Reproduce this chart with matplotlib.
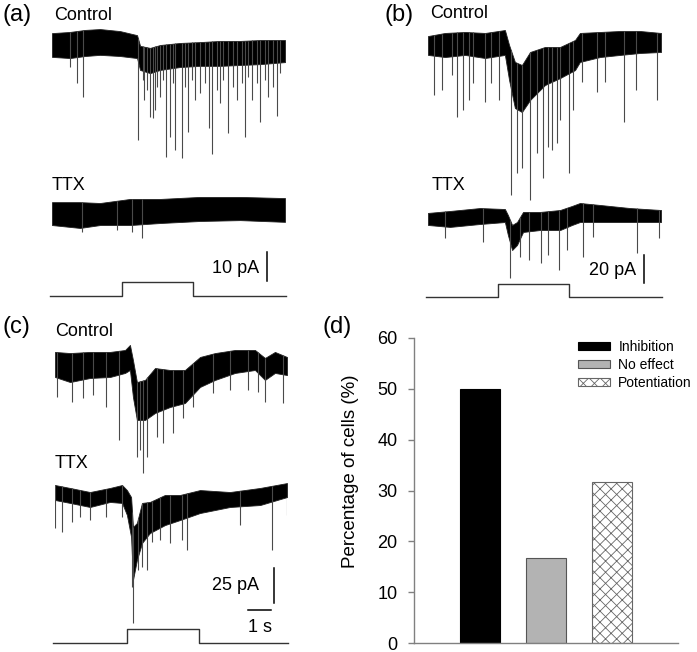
import numpy as np
import matplotlib
matplotlib.use("Agg")
import matplotlib.pyplot as plt

plt.rcParams['font.family'] = ['Liberation Sans', 'DejaVu Sans']
plt.rcParams['hatch.linewidth'] = 0.6

# ---------------- data ----------------
# traces: time (s), upper / lower edge of the noise band (pA), events (s, pA)

# (a) control
a_ctrl_t = [0, 0.77, 1.42, 2.06, 2.92, 3.65, 3.78, 4.21, 4.64, 5.49, 6.35, 7.21, 8.07, 8.93, 10.0]
a_ctrl_hi = [4.1, 4.5, 5.2, 5.5, 4.8, 3.4, -0.3, -1.0, 0.0, 0.7, 1.0, 1.4, 1.4, 1.7, 1.7]
a_ctrl_lo = [-4.1, -4.5, -3.8, -3.4, -3.8, -4.5, -8.6, -9.7, -8.6, -7.6, -7.2, -7.2, -6.9, -6.6, -5.9]
a_ctrl_ev_t = [0.77, 1.07, 1.33, 3.69, 3.91, 3.95, 4.08, 4.21, 4.33, 4.42, 4.51, 4.64, 4.76, 4.89,
               5.06, 5.19, 5.28, 5.58, 5.71, 5.84, 6.01, 6.14, 6.35, 6.57, 6.74, 6.87, 7.08, 7.21,
               7.34, 7.55, 7.77, 7.94, 8.15, 8.28, 8.41, 8.58, 8.80, 8.93, 9.14, 9.27, 9.48, 9.66, 9.79]
a_ctrl_ev_amp = [-7.6, -13.1, -17.9, -32.8, -12.1, -19.0, -15.5, -24.8, -25.2, -22.4, -14.5, -17.9, -12.1,
                 -38.6, -31.7, -13.1, -36.2, -39.0, -14.5, -30.0, -12.1, -19.0, -16.6, -13.1, -28.6,
                 -37.6, -15.5, -20.0, -12.1, -30.3, -14.5, -19.0, -13.1, -31.7, -11.0, -19.0, -13.1,
                 -26.6, -12.1, -17.9, -14.5, -24.5, -9.7]

# (a) TTX
a_ttx_t = [0, 1.20, 2.06, 3.35, 4.64, 6.35, 8.07, 10.0]
a_ttx_hi = [3.4, 3.4, 3.1, 4.5, 4.5, 5.2, 5.2, 4.8]
a_ttx_lo = [-4.5, -5.5, -4.5, -4.5, -3.8, -3.1, -2.8, -3.4]
a_ttx_ev_t = [1.29, 2.79, 3.43, 3.86]
a_ttx_ev_amp = [-6.9, -6.2, -6.9, -9.0]

# (b) control
b_ctrl_t = [0, 0.73, 1.59, 2.45, 3.30, 3.48, 3.73, 4.03, 4.38, 5.02, 5.67, 6.31, 6.52, 7.38, 8.24, 9.10, 10.0]
b_ctrl_hi = [6.4, 8.6, 9.3, 8.6, 10.7, 0, -12.1, -14.3, -5.0, -1.4, -1.4, 3.6, 8.6, 9.3, 10.0, 10.0, 8.6]
b_ctrl_lo = [-7.1, -8.6, -7.1, -9.3, -7.1, -25.0, -45.0, -47.9, -39.3, -28.6, -23.6, -17.9, -12.1,
             -8.6, -7.1, -5.7, -5.0]
b_ctrl_ev_t = [0.26, 0.60, 1.03, 1.24, 1.50, 1.76, 1.93, 2.45, 2.70, 3.05, 3.56, 3.82, 4.03, 4.38,
               4.68, 4.94, 5.15, 5.32, 5.54, 5.67, 6.05, 6.22, 6.61, 7.25, 7.60, 8.41, 8.93, 9.83]
b_ctrl_ev_amp = [-35.7, -32.1, -21.4, -51.4, -46.4, -39.3, -27.1, -40.7, -27.1, -39.3, -107.1, -91.4, -87.9,
                 -110.7, -77.1, -95.0, -72.9, -75.0, -70.0, -53.6, -91.4, -46.4, -26.4, -33.6, -26.4,
                 -55.0, -32.1, -39.3]

# (b) TTX
b_ttx_t = [0, 0.94, 2.23, 3.30, 3.43, 3.61, 3.82, 4.08, 4.81, 5.67, 6.18, 6.52, 7.38, 8.67, 10.0]
b_ttx_hi = [2.9, 4.3, 6.4, 5.7, 1.4, -5.7, -3.6, 3.6, 3.6, 5.0, 7.9, 10.0, 8.6, 6.4, 5.0]
b_ttx_lo = [-5.7, -7.1, -5.0, -3.6, -12.9, -23.6, -20.0, -10.7, -9.3, -9.3, -5.7, -3.6, -3.6, -3.6, -3.6]
b_ttx_ev_t = [0.73, 2.36, 3.52, 3.95, 4.33, 4.85, 5.15, 5.62, 5.97, 6.65, 7.08, 8.97, 9.91]
b_ttx_ev_amp = [-15.0, -17.9, -43.6, -28.6, -30.7, -32.9, -27.1, -37.9, -23.6, -28.6, -14.3, -25.7, -15.0]

# (c) control
c_ctrl_t = [0, 0.65, 1.51, 2.37, 3.02, 3.23, 3.36, 3.53, 3.88, 4.31, 4.96, 5.60, 6.25, 6.90, 7.76,
            8.62, 9.05, 9.48, 10.0]
c_ctrl_hi = [7.9, 7.1, 7.9, 7.9, 9.3, 12.9, 2.1, -13.6, -12.1, -3.6, -5.0, -5.0, 4.3, 7.1, 9.3, 9.3,
             3.6, 7.9, 4.3]
c_ctrl_lo = [-10.0, -13.6, -10.7, -10.0, -7.1, -5.0, -24.3, -40.7, -40.7, -35.7, -31.4, -28.6, -17.1,
             -12.1, -7.1, -5.0, -12.1, -7.1, -8.6]
c_ctrl_ev_t = [0.09, 0.73, 1.21, 1.64, 2.20, 2.76, 3.53, 3.66, 3.79, 3.97, 4.40, 4.66, 5.09, 5.52,
               5.95, 6.81, 7.54, 8.32, 8.75, 9.05, 9.83]
c_ctrl_ev_amp = [-24.3, -27.9, -25.0, -22.9, -31.4, -55.0, -67.1, -62.1, -78.6, -67.1, -52.9, -57.1,
                 -50.0, -39.3, -31.4, -21.4, -19.3, -19.3, -20.7, -27.9, -28.6]

# (c) TTX
c_ttx_t = [0, 0.65, 1.51, 2.37, 2.89, 3.10, 3.28, 3.36, 3.53, 3.75, 4.09, 4.74, 5.39, 6.25, 7.54, 8.84, 10.0]
c_ttx_hi = [5.7, 3.6, 0.7, 3.6, 5.7, 2.1, -2.9, -24.3, -21.4, -7.1, -6.4, -1.4, -1.4, 2.1, 0.7, 3.6, 7.1]
c_ttx_lo = [-5.0, -7.1, -10.0, -6.4, -7.1, -15.7, -31.4, -62.1, -47.9, -35.7, -28.6, -22.9, -19.3,
            -14.3, -10.0, -8.6, -2.9]
c_ttx_ev_t = [0.02, 0.30, 0.73, 1.08, 1.51, 2.20, 2.89, 3.32, 3.36, 3.58, 3.75, 3.97, 4.18, 4.53,
              4.96, 5.47, 5.69, 7.97, 9.35, 9.98]
c_ttx_ev_amp = [-25.0, -27.9, -20.7, -17.1, -19.3, -17.1, -17.1, -67.1, -92.9, -55.0, -52.9, -55.0,
                -35.0, -33.6, -35.7, -33.6, -40.7, -22.9, -40.7, -15.7]

# stimulus on / off (s)
stim_on = [3.0, 3.0, 3.1]
stim_off = [6.06, 6.05, 6.2]

# scale bars
scale_pA = [10, 20, 25]
scale_s = 1

# (d) bar chart
categories = ['Inhibition', 'No effect', 'Potentiation']
percent = [50.0, 16.7, 31.7]

# ---------------- figure ----------------
W, H = 697, 652
fig = plt.figure(figsize=(W / 100, H / 100), dpi=100)


def px_axes(x0, x1, ytop, ybot):
    return fig.add_axes([x0 / W, 1 - ybot / H, (x1 - x0) / W, (ybot - ytop) / H])


def ftext(x, y, s, **kw):
    return fig.text(x / W, 1 - y / H, s, **kw)


class Panel:
    # one trace panel: 10 s wide, pA vertically at s px per pA
    def __init__(self, x0, x1, ytop, ybot, yref, s):
        self.x0, self.x1, self.yref, self.s = x0, x1, yref, s
        self.ax = px_axes(x0, x1, ytop, ybot)
        self.ax.set_xlim(0, 10)
        self.ax.set_ylim((yref - ybot) / s, (yref - ytop) / s)
        self.ax.axis('off')

    def tx(self, px):
        return (px - self.x0) / (self.x1 - self.x0) * 10

    def ty(self, py):
        return (self.yref - py) / self.s

    def trace(self, t, hi, lo, ev_t, ev_amp, ypx):
        off = self.ty(ypx)
        t = np.asarray(t)
        hi = np.asarray(hi) + off
        lo = np.asarray(lo) + off
        self.ax.vlines(ev_t, np.asarray(ev_amp) + off, np.interp(ev_t, t, hi),
                       color='#4a4a4a', lw=0.8)
        self.ax.fill_between(t, lo, hi, facecolor='black', edgecolor='#222222', lw=0.6)

    def stim(self, on, off_, ybase, yhigh):
        b, h = self.ty(ybase), self.ty(yhigh)
        self.ax.plot([-0.1, on, on, off_, off_, 10.05], [b, b, h, h, b, b],
                     color='#333333', lw=1.0, clip_on=False)

    def vbar(self, xpx, ytop_px, val):
        x = self.tx(xpx)
        y = self.ty(ytop_px)
        self.ax.plot([x, x], [y, y - val], color='black', lw=1.1, clip_on=False)


LABEL = 17
TXT = 13

# (a)
pa = Panel(52, 285, 0, 305, 45, 2.9)
pa.trace(a_ctrl_t, a_ctrl_hi, a_ctrl_lo, a_ctrl_ev_t, a_ctrl_ev_amp, 45)
pa.trace(a_ttx_t, a_ttx_hi, a_ttx_lo, a_ttx_ev_t, a_ttx_ev_amp, 212)
pa.stim(stim_on[0], stim_off[0], 296, 282)
pa.vbar(267, 252, scale_pA[0])
ftext(259, 268, '%d pA' % scale_pA[0], fontsize=TXT, ha='right', va='center')
ftext(2, 15, '(a)', fontsize=LABEL, va='center')
ftext(54, 15, 'Control', fontsize=TXT, va='center')
ftext(52, 186, 'TTX', fontsize=TXT, va='center')

# (b)
pb = Panel(428, 661, 0, 305, 45, 1.4)
pb.trace(b_ctrl_t, b_ctrl_hi, b_ctrl_lo, b_ctrl_ev_t, b_ctrl_ev_amp, 45)
pb.trace(b_ttx_t, b_ttx_hi, b_ttx_lo, b_ttx_ev_t, b_ttx_ev_amp, 217)
pb.stim(stim_on[1], stim_off[1], 297, 284)
pb.vbar(644, 255, scale_pA[1])
ftext(636, 270, '%d pA' % scale_pA[1], fontsize=TXT, ha='right', va='center')
ftext(385, 15, '(b)', fontsize=LABEL, va='center')
ftext(430, 14, 'Control', fontsize=TXT, va='center')
ftext(432, 185, 'TTX', fontsize=TXT, va='center')

# (c)
pc = Panel(55, 287, 310, 652, 363, 1.4)
pc.trace(c_ctrl_t, c_ctrl_hi, c_ctrl_lo, c_ctrl_ev_t, c_ctrl_ev_amp, 363)
pc.trace(c_ttx_t, c_ttx_hi, c_ttx_lo, c_ttx_ev_t, c_ttx_ev_amp, 493)
pc.stim(stim_on[2], stim_off[2], 643, 629)
pc.vbar(274, 568, scale_pA[2])
x_end = pc.tx(271)
y_tb = pc.ty(610)
pc.ax.plot([x_end - scale_s, x_end], [y_tb, y_tb], color='black', lw=1.1, clip_on=False)
ftext(259, 585, '%d pA' % scale_pA[2], fontsize=TXT, ha='right', va='center')
ftext(260, 627, '%d s' % scale_s, fontsize=TXT, ha='center', va='center')
ftext(2, 327, '(c)', fontsize=LABEL, va='center')
ftext(55, 332, 'Control', fontsize=TXT, va='center')
ftext(55, 463, 'TTX', fontsize=TXT, va='center')

# (d)
ax = px_axes(414, 678, 338, 643)
x = np.arange(len(categories))
styles = [dict(color='black', edgecolor='black'),
          dict(color='#b3b3b3', edgecolor='#555555'),
          dict(facecolor='white', edgecolor='#666666', hatch='xxx')]
for xi, v, lab, st in zip(x, percent, categories, styles):
    ax.bar(xi, v, width=0.6, label=lab, lw=0.8, **st)
ax.set_xlim(-1, 3)
ax.set_ylim(0, 60)
ax.set_yticks(np.arange(0, 61, 10))
ax.set_xticks([])
for sp in ['top', 'right']:
    ax.spines[sp].set_visible(False)
for sp in ['left', 'bottom']:
    ax.spines[sp].set_color('#808080')
    ax.spines[sp].set_linewidth(1.0)
ax.tick_params(axis='y', length=4, width=1.0, color='#808080', pad=8, labelsize=13)
ftext(350, 471, 'Percentage of cells (%)', fontsize=13.5, rotation=90, ha='center', va='center')
ftext(322, 327, '(d)', fontsize=LABEL, va='center')
ax.legend(loc='upper left', bbox_to_anchor=((578 - 414) / 264, (643 - 340) / 305),
          frameon=False, fontsize=10, handlelength=2.3, handleheight=0.5,
          handletextpad=0.6, labelspacing=0.3, borderaxespad=0, borderpad=0)

fig.savefig('out.png', dpi=100)
